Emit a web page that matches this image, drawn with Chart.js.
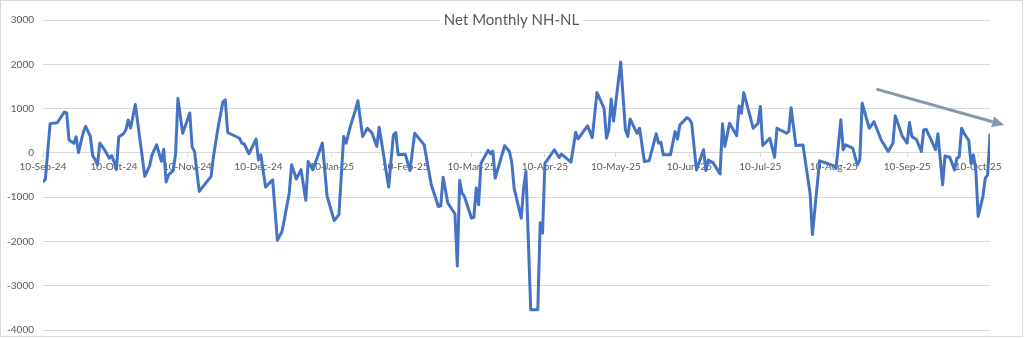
<!DOCTYPE html>
<html>
<head>
<meta charset="utf-8">
<title>Net Monthly NH-NL</title>
<script src="https://cdn.jsdelivr.net/npm/chart.js@4.4.1/dist/chart.umd.min.js"></script>
<style>
  html, body { margin: 0; padding: 0; background: #ffffff; }
  #frame {
    position: relative;
    width: 1023px;
    height: 337px;
    box-sizing: border-box;
    border: 1px solid #d9d9d9;
    background: #ffffff;
  }
  canvas { display: block; }
</style>
</head>
<body>
<div id="frame"><canvas id="chart" width="1021" height="335"></canvas></div>
<script>
// Daily net new highs minus new lows
const dates = [
  '2024-09-10','2024-09-11','2024-09-13','2024-09-16','2024-09-18','2024-09-19','2024-09-20','2024-09-21',
  '2024-09-23','2024-09-24','2024-09-25','2024-09-27','2024-09-28','2024-09-30','2024-10-01','2024-10-02',
  '2024-10-03','2024-10-04','2024-10-06','2024-10-08','2024-10-09','2024-10-10','2024-10-11','2024-10-12',
  '2024-10-14','2024-10-15','2024-10-16','2024-10-17','2024-10-19','2024-10-23','2024-10-25','2024-10-26',
  '2024-10-28','2024-10-30','2024-10-31','2024-11-01','2024-11-02','2024-11-04','2024-11-05','2024-11-06',
  '2024-11-08','2024-11-11','2024-11-12','2024-11-13','2024-11-15','2024-11-20','2024-11-21','2024-11-23',
  '2024-11-25','2024-11-26','2024-11-27','2024-12-02','2024-12-03','2024-12-04','2024-12-06','2024-12-09',
  '2024-12-10','2024-12-11','2024-12-13','2024-12-16','2024-12-18','2024-12-20','2024-12-23','2024-12-24',
  '2024-12-26','2024-12-28','2024-12-30','2024-12-31','2025-01-02','2025-01-06','2025-01-08','2025-01-11',
  '2025-01-13','2025-01-15','2025-01-16','2025-01-18','2025-01-20','2025-01-21','2025-01-23','2025-01-25',
  '2025-01-27','2025-01-29','2025-01-30','2025-02-03','2025-02-05','2025-02-06','2025-02-07','2025-02-10',
  '2025-02-12','2025-02-14','2025-02-18','2025-02-21','2025-02-24','2025-02-25','2025-02-26','2025-02-28',
  '2025-03-03','2025-03-04','2025-03-05','2025-03-06','2025-03-07','2025-03-10','2025-03-11','2025-03-12',
  '2025-03-13','2025-03-14','2025-03-17','2025-03-18','2025-03-19','2025-03-20','2025-03-24','2025-03-26',
  '2025-03-27','2025-03-28','2025-03-31','2025-04-01','2025-04-02','2025-04-04','2025-04-07','2025-04-08',
  '2025-04-09','2025-04-10','2025-04-14','2025-04-16','2025-04-17','2025-04-21','2025-04-23','2025-04-24',
  '2025-04-28','2025-04-30','2025-05-02','2025-05-05','2025-05-06','2025-05-07','2025-05-08','2025-05-09',
  '2025-05-12','2025-05-14','2025-05-15','2025-05-16','2025-05-18','2025-05-19','2025-05-20','2025-05-22',
  '2025-05-24','2025-05-27','2025-05-28','2025-05-29','2025-05-30','2025-06-02','2025-06-04','2025-06-05',
  '2025-06-06','2025-06-09','2025-06-10','2025-06-11','2025-06-13','2025-06-16','2025-06-17','2025-06-18',
  '2025-06-20','2025-06-23','2025-06-24','2025-06-25','2025-06-27','2025-06-30','2025-07-01','2025-07-02',
  '2025-07-03','2025-07-07','2025-07-09','2025-07-10','2025-07-11','2025-07-14','2025-07-16','2025-07-17',
  '2025-07-21','2025-07-22','2025-07-23','2025-07-25','2025-07-28','2025-07-31','2025-08-01','2025-08-04',
  '2025-08-07','2025-08-10','2025-08-11','2025-08-13','2025-08-14','2025-08-15','2025-08-18','2025-08-19',
  '2025-08-20','2025-08-21','2025-08-22','2025-08-25','2025-08-27','2025-08-30','2025-09-02','2025-09-04',
  '2025-09-05','2025-09-08','2025-09-10','2025-09-11','2025-09-12','2025-09-14','2025-09-16','2025-09-17',
  '2025-09-18','2025-09-20','2025-09-22','2025-09-23','2025-09-25','2025-09-26','2025-09-28','2025-09-30',
  '2025-10-01','2025-10-02','2025-10-03','2025-10-04','2025-10-06','2025-10-07','2025-10-08','2025-10-09',
  '2025-10-10','2025-10-12','2025-10-13','2025-10-14','2025-10-15'
];

const netNHNL = [
  -650, -600, 660, 680, 840, 920, 900, 290,
  215, 360, 10, 460, 600, 370, -70, -150,
  -270, 220, 70, -120, -60, -200, -380, 360,
  430, 520, 740, 560, 1090, -530, -300, -50,
  180, -190, 80, -660, -500, -400, -20, 1225,
  440, 900, 130, 30, -870, -530, -80, 590,
  1155, 1195, 460, 330, 220, 200, -20, 310,
  -160, -45, -770, -610, -1975, -1770, -910, -270,
  -590, -380, -1070, -195, -380, 220, -980, -1530,
  -1395, 370, 220, 630, 970, 1175, 370, 555,
  445, 145, 580, -770, 405, 460, -45, -30,
  -400, 445, 180, -720, -1210, -1195, -550, -1135,
  -1375, -2555, -625, -910, -985, -1475, -1455, -795,
  -1170, -235, 55, -20, 40, -570, 160, 30,
  -210, -795, -1475, -795, -420, -3540, -3540, -1580,
  -1810, -235, 70, -105, -30, -210, 465, 315,
  610, 345, 1360, 1005, 330, 520, 1215, 720,
  2050, 520, 370, 765, 540, 445, 555, -195,
  -180, 430, 220, 240, -45, -45, 480, 310,
  630, 795, 760, 670, -385, 70, -400, -160,
  -220, -475, 655, 145, 670, 385, 1060, 895,
  1360, 555, 670, 1045, 165, 330, -100, 555,
  445, 480, 1020, 165, 175, -910, -1845, -180,
  -235, -295, -345, 745, 70, 180, 105, -85,
  -270, -160, 1120, 555, 705, 295, 30, 220,
  835, 370, 220, 685, 370, 295, 30, 520,
  535, 310, 70, 430, -720, -70, -100, -385,
  -120, -85, 555, 445, 280, -235, -45, -385,
  -1435, -985, -570, -495, 405
];

const tickLabels = [
  '10-Sep-24','10-Oct-24','10-Nov-24','10-Dec-24','10-Jan-25','10-Feb-25','10-Mar-25',
  '10-Apr-25','10-May-25','10-Jun-25','10-Jul-25','10-Aug-25','10-Sep-25','10-Oct-25'
];

const chartTitle = 'Net Monthly NH-NL';

// Downward trend arrow drawn over the latest weeks
const trendStart = { date: '2025-08-28', value: 1440 };
const trendEnd   = { date: '2025-10-21', value: 630 };

const FONT = 'Lato, "Liberation Sans", "DejaVu Sans", sans-serif';
const TEXT_GREY = '#595959';
const GRID_GREY = '#d9d9d9';
const MONTHS = ['Jan','Feb','Mar','Apr','May','Jun','Jul','Aug','Sep','Oct','Nov','Dec'];
const DAY_MS = 86400000;

function dayNum(iso) {
  const [y, m, d] = iso.split('-').map(Number);
  return Date.UTC(y, m - 1, d) / DAY_MS;
}
function labelDay(label) {
  const [d, mon, yy] = label.split('-');
  return Date.UTC(2000 + Number(yy), MONTHS.indexOf(mon), Number(d)) / DAY_MS;
}

const points = dates.map((d, i) => ({ x: dayNum(d), y: netNHNL[i] }));

// Title sits over the top of the plot on a white box
const titlePlugin = {
  id: 'chartTitleText',
  afterDraw(chart) {
    const ctx = chart.ctx;
    ctx.save();
    ctx.font = '15px ' + FONT;
    const w = ctx.measureText(chartTitle).width;
    const cx = chart.width / 2, cy = 19.5;
    ctx.fillStyle = '#ffffff';
    ctx.fillRect(cx - w / 2 - 4, cy - 10, w + 8, 20);
    ctx.fillStyle = TEXT_GREY;
    ctx.textAlign = 'center';
    ctx.textBaseline = 'middle';
    ctx.fillText(chartTitle, cx, cy);
    ctx.restore();
  }
};

const trendArrowPlugin = {
  id: 'trendArrow',
  afterDatasetsDraw(chart) {
    const xs = chart.scales.x, ys = chart.scales.y;
    const x0 = xs.getPixelForValue(dayNum(trendStart.date));
    const y0 = ys.getPixelForValue(trendStart.value);
    const x1 = xs.getPixelForValue(dayNum(trendEnd.date));
    const y1 = ys.getPixelForValue(trendEnd.value);
    const ang = Math.atan2(y1 - y0, x1 - x0);
    const headLen = 12, headHalf = 5.5;
    const bx = x1 - headLen * Math.cos(ang), by = y1 - headLen * Math.sin(ang);
    const ctx = chart.ctx;
    ctx.save();
    ctx.strokeStyle = '#8497B0';
    ctx.fillStyle = '#8497B0';
    ctx.lineWidth = 3;
    ctx.lineCap = 'butt';
    ctx.beginPath();
    ctx.moveTo(x0, y0);
    ctx.lineTo(bx, by);
    ctx.stroke();
    ctx.beginPath();
    ctx.moveTo(x1, y1);
    ctx.lineTo(bx + headHalf * Math.sin(ang), by - headHalf * Math.cos(ang));
    ctx.lineTo(bx - headHalf * Math.sin(ang), by + headHalf * Math.cos(ang));
    ctx.closePath();
    ctx.fill();
    ctx.restore();
  }
};

new Chart(document.getElementById('chart').getContext('2d'), {
  type: 'line',
  data: {
    datasets: [{
      label: chartTitle,
      data: points,
      borderColor: '#4472C4',
      borderWidth: 3,
      pointRadius: 0,
      tension: 0,
      fill: false,
      borderJoinStyle: 'round',
      borderCapStyle: 'round'
    }]
  },
  options: {
    responsive: false,
    animation: false,
    devicePixelRatio: 1,
    layout: { padding: { left: 0, right: 32, top: 19, bottom: 6 } },
    plugins: {
      legend: { display: false },
      tooltip: { enabled: false },
      title: { display: false }
    },
    scales: {
      x: {
        type: 'linear',
        position: { y: 0 },
        min: dayNum(dates[0]),
        max: dayNum(dates[dates.length - 1]),
        afterBuildTicks(scale) {
          scale.ticks = tickLabels.map(l => ({ value: labelDay(l) }));
        },
        ticks: {
          autoSkip: false,
          maxRotation: 0,
          minRotation: 0,
          padding: 4,
          color: TEXT_GREY,
          font: { family: FONT, size: 10 },
          callback: (value, index) => tickLabels[index]
        },
        grid: { drawOnChartArea: false, drawTicks: true, tickLength: 4, color: GRID_GREY },
        border: { display: true, color: GRID_GREY }
      },
      y: {
        min: -4000,
        max: 3000,
        afterFit(scale) {
          scale.width = 42;
          scale.paddingTop = 6;
          scale.paddingBottom = 6;
        },
        ticks: {
          stepSize: 1000,
          padding: 9,
          color: TEXT_GREY,
          font: { family: FONT, size: 10 },
          callback: (value) => String(value)
        },
        grid: { color: GRID_GREY, drawTicks: false },
        border: { display: false }
      }
    }
  },
  plugins: [titlePlugin, trendArrowPlugin]
});
</script>
</body>
</html>
